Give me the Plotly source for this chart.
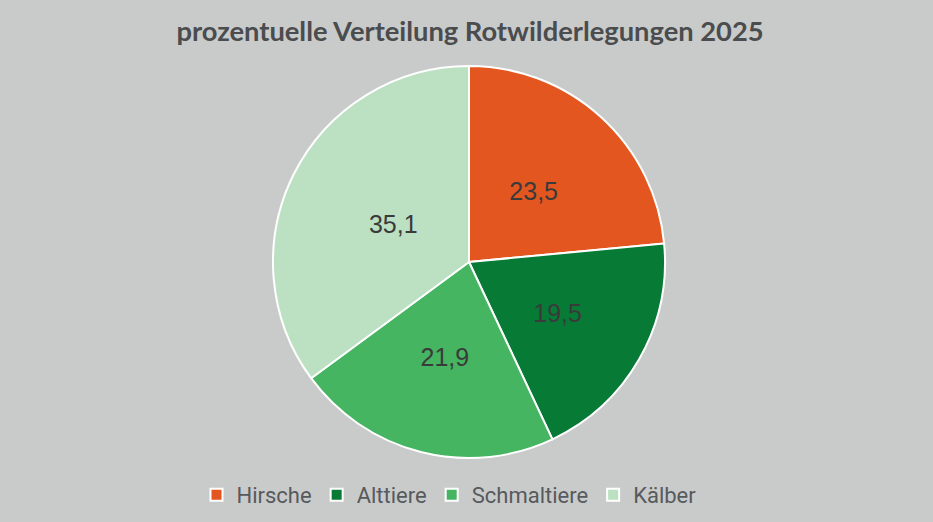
import plotly.graph_objects as go

categories = ["Hirsche", "Alttiere", "Schmaltiere", "Kälber"]
values = [23.5, 19.5, 21.9, 35.1]
colors = ["#E4561F", "#077A36", "#45B561", "#BCE0C2"]
title_text = "prozentuelle Verteilung Rotwilderlegungen 2025"

W, H = 933, 522
cx, cy, r = 469, 262, 196
label_r = 0.82 * r  # radius of transparent overlay pie carrying the value labels

def dom(rad):
    return dict(x=[(cx - rad) / W, (cx + rad) / W], y=[1 - (cy + rad) / H, 1 - (cy - rad) / H])

labels_txt = [f"{v:.1f}".replace(".", ",") for v in values]

fig = go.Figure()
fig.add_trace(go.Pie(
    labels=categories,
    values=values,
    sort=False,
    direction="clockwise",
    rotation=0,
    marker=dict(colors=colors, line=dict(color="white", width=2)),
    textinfo="none",
    domain=dom(r),
    hoverinfo="label+value",
))
fig.add_trace(go.Pie(
    labels=categories,
    values=values,
    sort=False,
    direction="clockwise",
    rotation=0,
    marker=dict(colors=["rgba(0,0,0,0)"] * 4, line=dict(width=0)),
    texttemplate=labels_txt,
    textinfo="text",
    textposition="inside",
    insidetextorientation="horizontal",
    textfont=dict(family="Liberation Sans, Arial, sans-serif", size=25, color="#3A3A3A"),
    domain=dom(label_r),
    hoverinfo="skip",
    showlegend=False,
))

fig.update_layout(
    width=W, height=H,
    margin=dict(l=0, r=0, t=0, b=0),
    paper_bgcolor="#C9CBCB",
    plot_bgcolor="#C9CBCB",
    title=dict(text=f"<b>{title_text}</b>", x=(470 / W), xanchor="center", y=1 - 31 / H, yanchor="middle",
               font=dict(family="Lato, Noto Sans, sans-serif", size=27.3, color="#4A4C4E")),
    legend=dict(orientation="h", x=449 / W, xanchor="center", y=1 - 495 / H, yanchor="middle",
                font=dict(family="Roboto, Noto Sans, sans-serif", size=22, color="#575A5C"),
                itemwidth=30, traceorder="normal"),
    showlegend=True,
)

fig.write_html("out.html", config={"displayModeBar": False},
               post_script="document.body.style.margin='0';document.body.style.overflow='hidden';")
